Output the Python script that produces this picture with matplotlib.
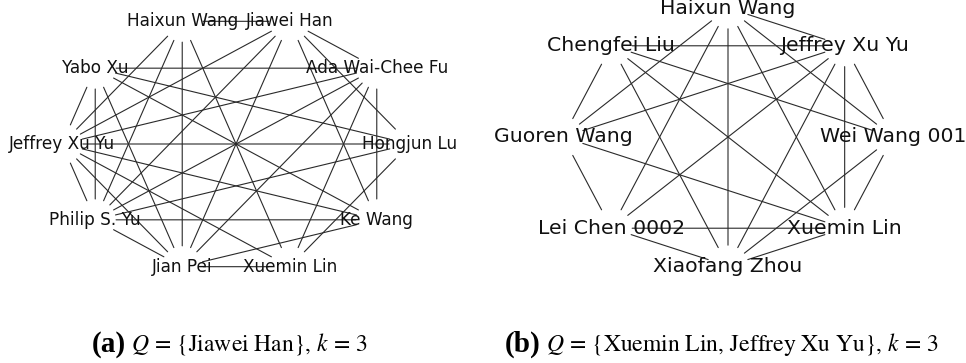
import numpy as np
import matplotlib
matplotlib.use("Agg")
import matplotlib.pyplot as plt
from matplotlib.patches import FancyArrowPatch

# nodes listed in circular-layout order (angle 0 first, counter-clockwise)
nodes_a = ["Hongjun Lu", "Ada Wai-Chee Fu", "Jiawei Han", "Haixun Wang", "Yabo Xu",
           "Jeffrey Xu Yu", "Philip S. Yu", "Jian Pei", "Xuemin Lin", "Ke Wang"]
edges_a = [
    ("Haixun Wang", "Jiawei Han"), ("Haixun Wang", "Jeffrey Xu Yu"), ("Haixun Wang", "Philip S. Yu"),
    ("Haixun Wang", "Jian Pei"), ("Haixun Wang", "Xuemin Lin"),
    ("Jiawei Han", "Jeffrey Xu Yu"), ("Jiawei Han", "Philip S. Yu"), ("Jiawei Han", "Jian Pei"),
    ("Jiawei Han", "Ke Wang"), ("Jiawei Han", "Hongjun Lu"), ("Jiawei Han", "Ada Wai-Chee Fu"),
    ("Yabo Xu", "Ada Wai-Chee Fu"), ("Yabo Xu", "Jeffrey Xu Yu"), ("Yabo Xu", "Philip S. Yu"),
    ("Yabo Xu", "Jian Pei"), ("Yabo Xu", "Ke Wang"), ("Yabo Xu", "Hongjun Lu"),
    ("Jeffrey Xu Yu", "Hongjun Lu"), ("Jeffrey Xu Yu", "Ada Wai-Chee Fu"), ("Jeffrey Xu Yu", "Ke Wang"),
    ("Jeffrey Xu Yu", "Xuemin Lin"), ("Jeffrey Xu Yu", "Philip S. Yu"), ("Jeffrey Xu Yu", "Jian Pei"),
    ("Philip S. Yu", "Ke Wang"), ("Philip S. Yu", "Ada Wai-Chee Fu"), ("Philip S. Yu", "Hongjun Lu"),
    ("Philip S. Yu", "Jian Pei"),
    ("Jian Pei", "Xuemin Lin"), ("Jian Pei", "Ada Wai-Chee Fu"), ("Jian Pei", "Ke Wang"),
    ("Ada Wai-Chee Fu", "Ke Wang"), ("Ada Wai-Chee Fu", "Xuemin Lin"),
    ("Hongjun Lu", "Xuemin Lin"),
]

nodes_b = ["Wei Wang 001", "Jeffrey Xu Yu", "Haixun Wang", "Chengfei Liu",
           "Guoren Wang", "Lei Chen 0002", "Xiaofang Zhou", "Xuemin Lin"]
edges_b = [
    ("Haixun Wang", "Jeffrey Xu Yu"), ("Haixun Wang", "Guoren Wang"), ("Haixun Wang", "Lei Chen 0002"),
    ("Haixun Wang", "Xiaofang Zhou"), ("Haixun Wang", "Xuemin Lin"), ("Haixun Wang", "Wei Wang 001"),
    ("Jeffrey Xu Yu", "Chengfei Liu"), ("Jeffrey Xu Yu", "Guoren Wang"), ("Jeffrey Xu Yu", "Lei Chen 0002"),
    ("Jeffrey Xu Yu", "Xiaofang Zhou"), ("Jeffrey Xu Yu", "Xuemin Lin"), ("Jeffrey Xu Yu", "Wei Wang 001"),
    ("Chengfei Liu", "Guoren Wang"), ("Chengfei Liu", "Xiaofang Zhou"), ("Chengfei Liu", "Xuemin Lin"),
    ("Chengfei Liu", "Wei Wang 001"),
    ("Guoren Wang", "Xuemin Lin"), ("Guoren Wang", "Lei Chen 0002"),
    ("Lei Chen 0002", "Xuemin Lin"), ("Lei Chen 0002", "Xiaofang Zhou"),
    ("Xiaofang Zhou", "Wei Wang 001"), ("Xiaofang Zhou", "Xuemin Lin"),
    ("Xuemin Lin", "Wei Wang 001"),
]

caption_a = ("(a)", r"$Q\,=\,\{\mathrm{Jiawei\ Han}\},\,k\,=\,3$")
caption_b = ("(b)", r"$Q\,=\,\{\mathrm{Xuemin\ Lin,\,Jeffrey\ Xu\ Yu}\},\,k\,=\,3$")

plt.rcParams["mathtext.fontset"] = "stix"

W, H = 966, 363
fig = plt.figure(figsize=(W / 100, H / 100), dpi=100)


def circular_layout(names):
    theta = np.linspace(0, 2 * np.pi, len(names) + 1)[:-1]
    return {n: (np.cos(t), np.sin(t)) for n, t in zip(names, theta)}


def draw_graph(ax, names, edges, fontsize):
    pos = circular_layout(names)
    for u, v in edges:
        ax.add_patch(FancyArrowPatch(pos[u], pos[v], arrowstyle="-", shrinkA=15, shrinkB=15,
                                     color="#2a2a2a", lw=0.8))
    for n in names:
        x, y = pos[n]
        ax.text(x, y, n, ha="center", va="center", fontsize=fontsize, color="#111111",
                clip_on=False)
    ax.axis("off")


# left graph: circle centre at (236,144) px, radii 174 x 129 px
ax_a = fig.add_axes([0, 1 - 290 / H, 483 / W, 290 / H])
ax_a.set_xlim(-236 / 174, (483 - 236) / 174)
ax_a.set_ylim((144 - 290) / 129, 144 / 129)
draw_graph(ax_a, nodes_a, edges_a, 12.2)

# right graph: circle centre at (728,137) px, radii 165 x 129 px
ax_b = fig.add_axes([483 / W, 1 - 290 / H, 483 / W, 290 / H])
ax_b.set_xlim((483 - 728) / 165, (966 - 728) / 165)
ax_b.set_ylim((137 - 290) / 129, 137 / 129)
draw_graph(ax_b, nodes_b, edges_b, 14.7)

renderer = fig.canvas.get_renderer()


def caption(x_px, parts):
    tag, body = parts
    y = 1 - 344 / H
    t = fig.text(x_px / W, y, tag, fontsize=21, fontweight="bold", family="Liberation Serif",
                 ha="left", va="center")
    bb = t.get_window_extent(renderer)
    fig.text((bb.x1 + 5) / W, y, body, fontsize=17, ha="left", va="center")


caption(92, caption_a)
caption(505, caption_b)

fig.savefig("out.png", dpi=100)
